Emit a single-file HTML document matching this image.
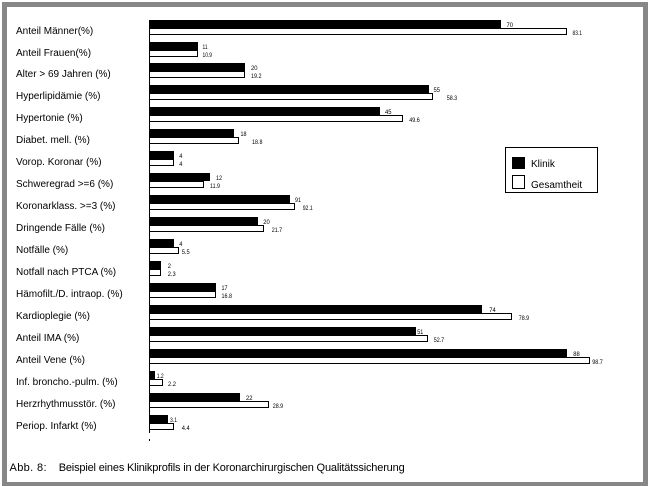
<!DOCTYPE html>
<html>
<head>
<meta charset="utf-8">
<style>
  html, body { margin: 0; padding: 0; background: #fff; }
  svg { display: block; }
  text { font-family: "Liberation Sans", Arial, sans-serif; fill: #000; }
  .lbl { font-size: 10px; }
  .val { font-size: 6.5px; }
  .cap { font-size: 11px; }
</style>
</head>
<body>
<svg width="650" height="486" viewBox="0 0 650 486" xmlns="http://www.w3.org/2000/svg">
  <rect x="0" y="0" width="650" height="486" fill="#fff"/>
  <!-- gray frame -->
  <rect x="2" y="2" width="646" height="484" fill="#878787"/>
  <rect x="7" y="7" width="636" height="475" fill="#fff"/>

  <!-- axis -->
  <line x1="149.5" y1="20" x2="149.5" y2="433" stroke="#000" stroke-width="1"/>
  <rect x="149" y="439" width="1" height="2" fill="#000"/>

  <!-- Row labels -->
  <g class="lbl">
    <text x="16" y="34">Anteil Männer(%)</text>
    <text x="16" y="56">Anteil Frauen(%)</text>
    <text x="16" y="77">Alter &gt; 69 Jahren (%)</text>
    <text x="16" y="99">Hyperlipidämie (%)</text>
    <text x="16" y="121">Hypertonie (%)</text>
    <text x="16" y="143">Diabet. mell. (%)</text>
    <text x="16" y="165">Vorop. Koronar (%)</text>
    <text x="16" y="187">Schweregrad &gt;=6 (%)</text>
    <text x="16" y="209">Koronarklass. &gt;=3 (%)</text>
    <text x="16" y="231">Dringende Fälle (%)</text>
    <text x="16" y="253">Notfälle (%)</text>
    <text x="16" y="275">Notfall nach PTCA (%)</text>
    <text x="16" y="297">Hämofilt./D. intraop. (%)</text>
    <text x="16" y="319">Kardioplegie (%)</text>
    <text x="16" y="341">Anteil IMA (%)</text>
    <text x="16" y="363">Anteil Vene (%)</text>
    <text x="16" y="385">Inf. broncho.-pulm. (%)</text>
    <text x="16" y="407">Herzrhythmusstör. (%)</text>
    <text x="16" y="429">Periop. Infarkt (%)</text>
  </g>

  <!-- Bars: black = Klinik, white outlined = Gesamtheit -->
  <g stroke="#000" stroke-width="1">
    <!-- row 0 top 20 -->
    <rect x="150" y="20" width="351" height="8" fill="#000" stroke="none"/>
    <rect x="149.5" y="28.5" width="417" height="6" fill="#fff"/>
    <!-- row 1 top 42 -->
    <rect x="150" y="42" width="48" height="8" fill="#000" stroke="none"/>
    <rect x="149.5" y="50.5" width="48" height="6" fill="#fff"/>
    <!-- row 2 top 63 -->
    <rect x="150" y="63" width="95" height="8" fill="#000" stroke="none"/>
    <rect x="149.5" y="71.5" width="95" height="6" fill="#fff"/>
    <!-- row 3 top 85 -->
    <rect x="150" y="85" width="279" height="8" fill="#000" stroke="none"/>
    <rect x="149.5" y="93.5" width="283" height="6" fill="#fff"/>
    <!-- row 4 top 107 -->
    <rect x="150" y="107" width="230" height="8" fill="#000" stroke="none"/>
    <rect x="149.5" y="115.5" width="253" height="6" fill="#fff"/>
    <!-- row 5 top 129 -->
    <rect x="150" y="129" width="84" height="8" fill="#000" stroke="none"/>
    <rect x="149.5" y="137.5" width="89" height="6" fill="#fff"/>
    <!-- row 6 top 151 -->
    <rect x="150" y="151" width="24" height="8" fill="#000" stroke="none"/>
    <rect x="149.5" y="159.5" width="24" height="6" fill="#fff"/>
    <!-- row 7 top 173 -->
    <rect x="150" y="173" width="60" height="8" fill="#000" stroke="none"/>
    <rect x="149.5" y="181.5" width="54" height="6" fill="#fff"/>
    <!-- row 8 top 195 -->
    <rect x="150" y="195" width="140" height="8" fill="#000" stroke="none"/>
    <rect x="149.5" y="203.5" width="145" height="6" fill="#fff"/>
    <!-- row 9 top 217 -->
    <rect x="150" y="217" width="108" height="8" fill="#000" stroke="none"/>
    <rect x="149.5" y="225.5" width="114" height="6" fill="#fff"/>
    <!-- row 10 top 239 -->
    <rect x="150" y="239" width="24" height="8" fill="#000" stroke="none"/>
    <rect x="149.5" y="247.5" width="29" height="6" fill="#fff"/>
    <!-- row 11 top 261 -->
    <rect x="150" y="261" width="11" height="8" fill="#000" stroke="none"/>
    <rect x="149.5" y="269.5" width="11" height="6" fill="#fff"/>
    <!-- row 12 top 283 -->
    <rect x="150" y="283" width="66" height="8" fill="#000" stroke="none"/>
    <rect x="149.5" y="291.5" width="66" height="6" fill="#fff"/>
    <!-- row 13 top 305 -->
    <rect x="150" y="305" width="332" height="8" fill="#000" stroke="none"/>
    <rect x="149.5" y="313.5" width="362" height="6" fill="#fff"/>
    <!-- row 14 top 327 -->
    <rect x="150" y="327" width="266" height="8" fill="#000" stroke="none"/>
    <rect x="149.5" y="335.5" width="278" height="6" fill="#fff"/>
    <!-- row 15 top 349 -->
    <rect x="150" y="349" width="417" height="8" fill="#000" stroke="none"/>
    <rect x="149.5" y="357.5" width="440" height="6" fill="#fff"/>
    <!-- row 16 top 371 -->
    <rect x="150" y="371" width="5" height="8" fill="#000" stroke="none"/>
    <rect x="149.5" y="379.5" width="13" height="6" fill="#fff"/>
    <!-- row 17 top 393 -->
    <rect x="150" y="393" width="90" height="8" fill="#000" stroke="none"/>
    <rect x="149.5" y="401.5" width="119" height="6" fill="#fff"/>
    <!-- row 18 top 415 -->
    <rect x="150" y="415" width="18" height="8" fill="#000" stroke="none"/>
    <rect x="149.5" y="423.5" width="24" height="6" fill="#fff"/>
  </g>

  <!-- Value labels -->
  <g class="val">
    <text x="506.5" y="27" textLength="6.5" lengthAdjust="spacingAndGlyphs">70</text>
    <text x="572.5" y="35" textLength="9.5" lengthAdjust="spacingAndGlyphs">83.1</text>

    <text x="202.5" y="49" textLength="5" lengthAdjust="spacingAndGlyphs">11</text>
    <text x="202.5" y="57" textLength="9.5" lengthAdjust="spacingAndGlyphs">10.9</text>

    <text x="251" y="70" textLength="6.5" lengthAdjust="spacingAndGlyphs">20</text>
    <text x="251" y="78" textLength="10.5" lengthAdjust="spacingAndGlyphs">19.2</text>

    <text x="433.5" y="92" textLength="6.5" lengthAdjust="spacingAndGlyphs">55</text>
    <text x="446.7" y="100" textLength="10.5" lengthAdjust="spacingAndGlyphs">58.3</text>

    <text x="385" y="114" textLength="6.5" lengthAdjust="spacingAndGlyphs">45</text>
    <text x="409.3" y="122" textLength="10.5" lengthAdjust="spacingAndGlyphs">49.6</text>

    <text x="240.5" y="136" textLength="6" lengthAdjust="spacingAndGlyphs">18</text>
    <text x="252" y="144" textLength="10.5" lengthAdjust="spacingAndGlyphs">18.8</text>

    <text x="179.3" y="158" textLength="3.2" lengthAdjust="spacingAndGlyphs">4</text>
    <text x="179.3" y="166" textLength="3.2" lengthAdjust="spacingAndGlyphs">4</text>

    <text x="216" y="180" textLength="6" lengthAdjust="spacingAndGlyphs">12</text>
    <text x="210" y="188" textLength="10" lengthAdjust="spacingAndGlyphs">11.9</text>

    <text x="295" y="202" textLength="6" lengthAdjust="spacingAndGlyphs">91</text>
    <text x="302.7" y="210" textLength="10" lengthAdjust="spacingAndGlyphs">92.1</text>

    <text x="263.3" y="224" textLength="6.5" lengthAdjust="spacingAndGlyphs">20</text>
    <text x="271.7" y="232" textLength="10.5" lengthAdjust="spacingAndGlyphs">21.7</text>

    <text x="179.3" y="246" textLength="3.2" lengthAdjust="spacingAndGlyphs">4</text>
    <text x="181.7" y="254" textLength="8" lengthAdjust="spacingAndGlyphs">5.5</text>

    <text x="167.7" y="268" textLength="3.2" lengthAdjust="spacingAndGlyphs">2</text>
    <text x="167.7" y="276" textLength="8" lengthAdjust="spacingAndGlyphs">2.3</text>

    <text x="221.5" y="290" textLength="6" lengthAdjust="spacingAndGlyphs">17</text>
    <text x="221.5" y="298" textLength="10.5" lengthAdjust="spacingAndGlyphs">16.8</text>

    <text x="489.3" y="312" textLength="6.5" lengthAdjust="spacingAndGlyphs">74</text>
    <text x="518.7" y="320" textLength="10.5" lengthAdjust="spacingAndGlyphs">78.9</text>

    <text x="417.3" y="334" textLength="6" lengthAdjust="spacingAndGlyphs">51</text>
    <text x="433.7" y="342" textLength="10.5" lengthAdjust="spacingAndGlyphs">52.7</text>

    <text x="573.3" y="356" textLength="6.5" lengthAdjust="spacingAndGlyphs">88</text>
    <text x="592.3" y="364" textLength="10.5" lengthAdjust="spacingAndGlyphs">98.7</text>

    <text x="156.7" y="378" textLength="7" lengthAdjust="spacingAndGlyphs">1.2</text>
    <text x="168" y="386" textLength="8" lengthAdjust="spacingAndGlyphs">2.2</text>

    <text x="246" y="400" textLength="6.5" lengthAdjust="spacingAndGlyphs">22</text>
    <text x="272.7" y="408" textLength="10.5" lengthAdjust="spacingAndGlyphs">28.9</text>

    <text x="170" y="422" textLength="7" lengthAdjust="spacingAndGlyphs">3.1</text>
    <text x="181.7" y="430" textLength="8" lengthAdjust="spacingAndGlyphs">4.4</text>
  </g>

  <!-- Legend -->
  <rect x="505.5" y="147.5" width="92" height="45" fill="#fff" stroke="#000" stroke-width="1"/>
  <rect x="512" y="157" width="13" height="12" fill="#000"/>
  <rect x="512.5" y="175.5" width="12" height="13" fill="#fff" stroke="#000" stroke-width="1"/>
  <text class="lbl" x="531" y="167">Klinik</text>
  <text class="lbl" x="531" y="188">Gesamtheit</text>

  <!-- Caption -->
  <text class="cap" x="9.5" y="471" textLength="37" lengthAdjust="spacing">Abb. 8:</text>
  <text class="cap" x="58.7" y="471" textLength="346" lengthAdjust="spacing">Beispiel eines Klinikprofils in der Koronarchirurgischen Qualitätssicherung</text>
</svg>
</body>
</html>
